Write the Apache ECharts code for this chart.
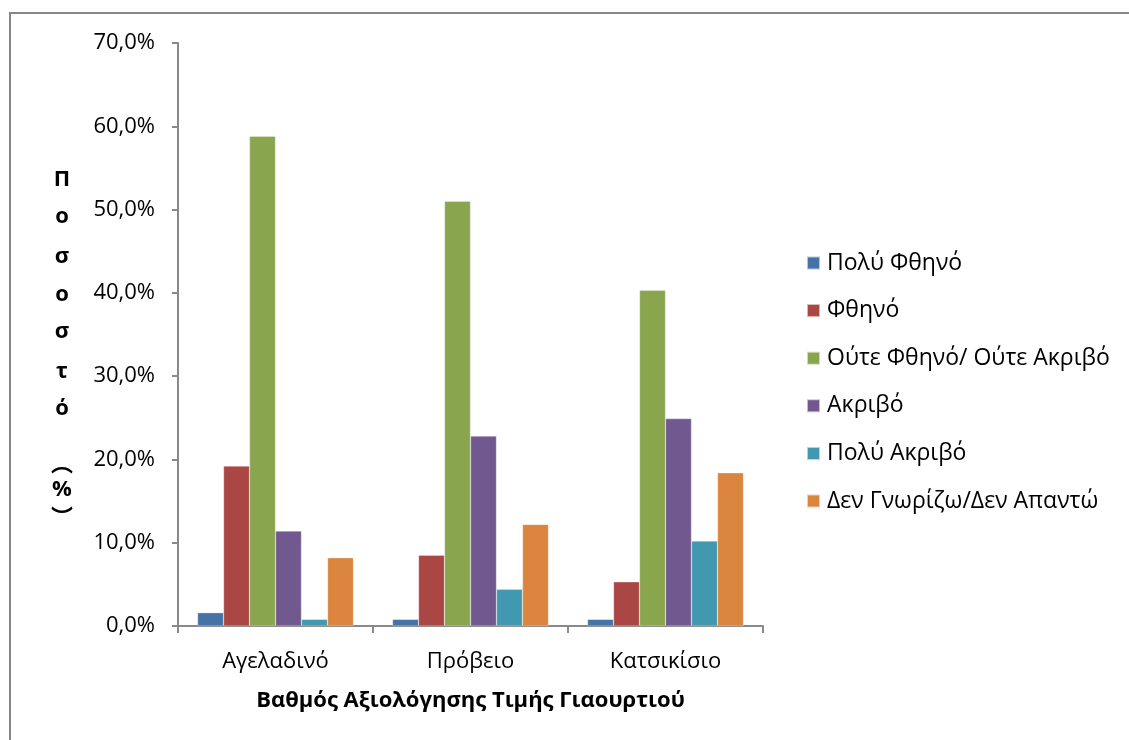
<!DOCTYPE html>
<html>
<head>
<meta charset="utf-8">
<script src="https://cdn.jsdelivr.net/npm/echarts@6/dist/echarts.min.js"></script>
<style>html,body{margin:0;padding:0;background:#fff}#c{width:1129px;height:740px}</style>
</head>
<body>
<div id="c"></div>
<script>
const categories = ['Αγελαδινό', 'Πρόβειο', 'Κατσικίσιο'];
const seriesNames = ['Πολύ Φθηνό', 'Φθηνό', 'Ούτε Φθηνό/ Ούτε Ακριβό', 'Ακριβό', 'Πολύ Ακριβό', 'Δεν Γνωρίζω/Δεν Απαντώ'];
const polyFthino = [1.6, 0.8, 0.8];
const fthino = [19.2, 8.5, 5.3];
const oute = [58.8, 51.0, 40.3];
const akrivo = [11.4, 22.8, 24.9];
const polyAkrivo = [0.8, 4.4, 10.2];
const denGnorizo = [8.2, 12.2, 18.4];
const yTitleChars = ['Π', 'ο', 'σ', 'ο', 'σ', 'τ', 'ό', '︵', '%', '︶'];
const xTitle = 'Βαθμός Αξιολόγησης Τιμής Γιαουρτιού';

const values = [polyFthino, fthino, oute, akrivo, polyAkrivo, denGnorizo];
const colors = ['#4572A7', '#AA4643', '#89A54E', '#71588F', '#4198AF', '#DB843D'];
const FONT = '"Open Sans", "Noto Sans", sans-serif';
const CJK = '"Noto Sans CJK SC", sans-serif';

const chart = echarts.init(document.getElementById('c'), null, {renderer: 'canvas'});

const yPos = [180, 217, 257, 295, 332, 372, 409, 463, 490, 517];
const titleGraphics = yTitleChars.map((ch, i) => ({
  type: 'text',
  x: 62, y: yPos[i],
  style: {text: ch, font: (ch === '︵' || ch === '︶') ? ('bold 22px ' + CJK) : ('bold 22px ' + FONT),
    fill: '#000', align: 'center', verticalAlign: 'middle'}
}));

chart.setOption({
  animation: false,
  backgroundColor: '#fff',
  color: colors,
  grid: {left: 178, right: 366, top: 43, bottom: 114, containLabel: false},
  legend: {
    orient: 'vertical', left: 801, top: 246,
    itemWidth: 13, itemHeight: 13, itemGap: 23.6,
    icon: 'rect',
    data: seriesNames,
    textStyle: {fontFamily: FONT, fontSize: 23, lineHeight: 24, color: '#000', padding: [0, 0, 0, 2]}
  },
  xAxis: {
    type: 'category', data: categories,
    axisLine: {lineStyle: {color: '#898989', width: 2}},
    axisTick: {show: true, length: 7, lineStyle: {color: '#898989', width: 2}},
    axisLabel: {fontFamily: FONT, fontSize: 22, color: '#000', margin: 25},
    name: xTitle, nameLocation: 'middle', nameGap: 64,
    nameTextStyle: {fontFamily: FONT, fontSize: 22, fontWeight: 'bold', color: '#000'}
  },
  yAxis: {
    type: 'value', min: 0, max: 70, interval: 10,
    axisLine: {show: true, lineStyle: {color: '#898989', width: 2}},
    axisTick: {show: true, length: 6, lineStyle: {color: '#898989', width: 2}},
    splitLine: {show: false},
    axisLabel: {fontFamily: FONT, fontSize: 22, color: '#000', margin: 23,
      formatter: v => v.toFixed(1).replace('.', ',') + '%'}
  },
  series: seriesNames.map((n, i) => ({
    name: n, type: 'bar', data: values[i],
    barGap: '0%', barCategoryGap: '20%',
    itemStyle: {color: colors[i], borderColor: 'rgba(255,255,255,0.6)', borderWidth: 0.5}
  })),
  graphic: [
    {type: 'rect', shape: {x: 10, y: 13, width: 1140, height: 760},
     style: {fill: 'none', stroke: '#878787', lineWidth: 2}, silent: true, z: -1},
    ...titleGraphics
  ]
});
</script>
</body>
</html>
